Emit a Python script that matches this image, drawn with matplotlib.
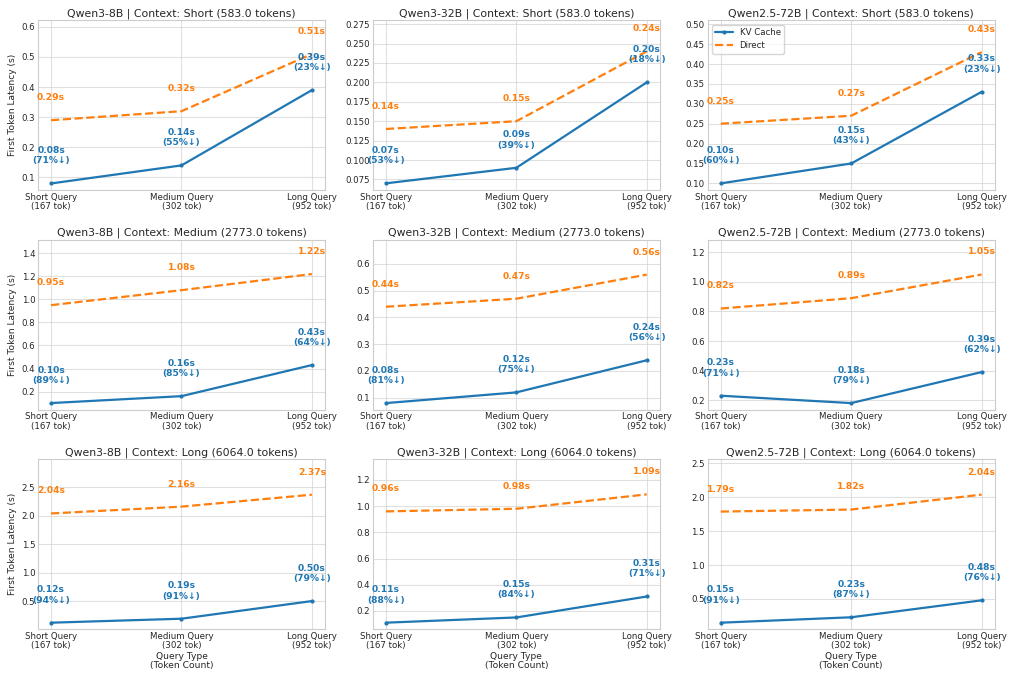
import matplotlib
matplotlib.use("Agg")
import matplotlib.pyplot as plt
import seaborn as sns

models = ["Qwen3-8B", "Qwen3-32B", "Qwen2.5-72B"]
contexts = ["Short", "Medium", "Long"]
context_tokens = [583.0, 2773.0, 6064.0]
query_labels = ["Short Query\n(167 tok)", "Medium Query\n(302 tok)", "Long Query\n(952 tok)"]

# latency[context][model] -> values for short / medium / long query
kv_cache = [
    [[0.08, 0.14, 0.39], [0.07, 0.09, 0.20], [0.10, 0.15, 0.33]],
    [[0.10, 0.16, 0.43], [0.08, 0.12, 0.24], [0.23, 0.18, 0.39]],
    [[0.12, 0.19, 0.50], [0.11, 0.15, 0.31], [0.15, 0.23, 0.48]],
]
direct = [
    [[0.29, 0.32, 0.51], [0.14, 0.15, 0.24], [0.25, 0.27, 0.43]],
    [[0.95, 1.08, 1.22], [0.44, 0.47, 0.56], [0.82, 0.89, 1.05]],
    [[2.04, 2.16, 2.37], [0.96, 0.98, 1.09], [1.79, 1.82, 2.04]],
]
reduction = [
    [[71, 55, 23], [53, 39, 18], [60, 43, 23]],
    [[89, 85, 64], [81, 75, 56], [71, 79, 62]],
    [[94, 91, 79], [88, 84, 71], [91, 87, 76]],
]
y_top = [
    [0.622, 0.280, 0.510],
    [1.517, 0.690, 1.285],
    [2.990, 1.357, 2.560],
]

sns.set_style("whitegrid")
plt.rcParams['font.family'] = ['DejaVu Sans']

blue = '#1f77b4'
orange = '#ff7f0e'

fig, axes = plt.subplots(3, 3, figsize=(10.16, 6.75), dpi=100)
fig.subplots_adjust(left=0.0374, right=0.979, top=0.970, bottom=0.068,
                    wspace=0.167, hspace=0.294)

x = list(range(len(query_labels)))
for r, ctx in enumerate(contexts):
    for c, model in enumerate(models):
        ax = axes[r][c]
        kv = kv_cache[r][c]
        dr = direct[r][c]
        ax.plot(x, kv, color=blue, linewidth=1.6, marker='o', markersize=2,
                label='KV Cache')
        ax.plot(x, dr, color=orange, linewidth=1.6, linestyle='--',
                label='Direct')
        for i in x:
            ax.annotate(f"{kv[i]:.2f}s\n({reduction[r][c][i]}%↓)", (i, kv[i]),
                        xytext=(0, 13), textcoords='offset points',
                        ha='center', va='bottom', color=blue,
                        fontsize=6.6, fontweight='bold')
            ax.annotate(f"{dr[i]:.2f}s", (i, dr[i]),
                        xytext=(0, 13), textcoords='offset points',
                        ha='center', va='bottom', color=orange,
                        fontsize=6.6, fontweight='bold')
        ax.set_ylim(top=y_top[r][c])
        ax.set_xticks(x)
        ax.set_xticklabels(query_labels, fontsize=6.2, linespacing=1.05)
        ax.tick_params(axis='both', length=0, pad=2)
        ax.tick_params(axis='y', labelsize=6.2)
        ax.set_title(f"{model} | Context: {ctx} ({context_tokens[r]} tokens)",
                     fontsize=7.8, pad=3)
        ax.grid(True, alpha=0.6)
        if c == 0:
            ax.set_ylabel("First Token Latency (s)", fontsize=6.6, labelpad=3)
        if r == 2:
            ax.set_xlabel("Query Type\n(Token Count)", fontsize=6.6,
                          labelpad=1, linespacing=1.05)
        if r == 0 and c == 2:
            ax.legend(loc='upper left', fontsize=6.2, frameon=True)

fig.savefig("out.png", dpi=100)
